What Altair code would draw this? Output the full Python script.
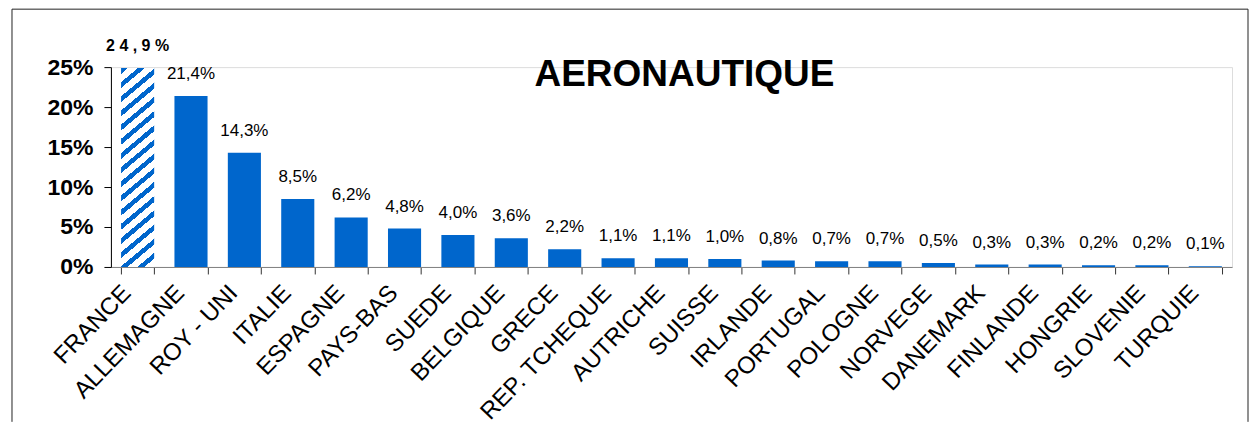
import altair as alt
import pandas as pd

# ---- data ----
countries = ["FRANCE", "ALLEMAGNE", "ROY - UNI", "ITALIE", "ESPAGNE", "PAYS-BAS",
             "SUEDE", "BELGIQUE", "GRECE", "REP. TCHEQUE", "AUTRICHE", "SUISSE",
             "IRLANDE", "PORTUGAL", "POLOGNE", "NORVEGE", "DANEMARK", "FINLANDE",
             "HONGRIE", "SLOVENIE", "TURQUIE"]
shares_pct = [24.9, 21.4, 14.3, 8.5, 6.2, 4.8, 4.0, 3.6, 2.2, 1.1, 1.1, 1.0,
              0.8, 0.7, 0.7, 0.5, 0.3, 0.3, 0.2, 0.2, 0.1]
highlight = "FRANCE"
title_text = ["AERONAUTIQUE"]
y_ticks = [0, 0.05, 0.10, 0.15, 0.20, 0.25]

BLUE = "#0066CC"
FONT = "Liberation Sans"


def fmt(v):
    return ("%.1f" % v).replace(".", ",") + "%"


labels = []
for c, v in zip(countries, shares_pct):
    s = fmt(v)
    if c == highlight:
        s = " ".join(s)
    labels.append(s)

df = pd.DataFrame({
    "country": countries,
    "value": [v / 100 for v in shares_pct],
    "label": labels,
    "hl": [c == highlight for c in countries],
})

# ---- hatch pattern for highlighted bar (diagonal stripes via gradient) ----
K = 16
frac = 0.42
stops = []
for i in range(K):
    a = i / K
    b = (i + frac) / K
    e = (i + 1) / K
    stops += [alt.GradientStop(offset=a, color=BLUE),
              alt.GradientStop(offset=b, color=BLUE),
              alt.GradientStop(offset=b, color="white"),
              alt.GradientStop(offset=e, color="white")]
hatch = alt.LinearGradient(gradient="linear", stops=stops,
                           x1=0, y1=0, x2=0.1555, y2=1.1175)

W, H = 1122, 200

x_enc = alt.X("country:N", sort=countries,
              scale=alt.Scale(paddingInner=0.38, paddingOuter=0.19),
              axis=alt.Axis(title=None, labelAngle=-46, labelAlign="right",
                            labelBaseline="middle", labelPadding=15,
                            labelOffset=-11,
                            labelFontSize=24, labelFont=FONT, labelColor="black",
                            labelOverlap=False, tickBand="extent", tickSize=7,
                            tickColor="#333333", domainColor="#808080",
                            labelLimit=400))
y_enc = alt.Y("value:Q", scale=alt.Scale(domain=[0, 0.25], nice=False, zero=True),
              axis=alt.Axis(title=None, format="%", values=y_ticks, grid=False,
                            labelFontSize=23, labelFontWeight="bold", labelFont=FONT,
                            labelColor="black", labelPadding=11, tickSize=7,
                            tickColor="black", domainColor="black"))

base = alt.Chart(df)

bars = base.mark_bar(color=BLUE).encode(x=x_enc, y=y_enc).transform_filter(
    alt.datum.hl == False)
hbar = base.mark_bar(color=hatch).encode(x=x_enc, y=y_enc).transform_filter(
    alt.datum.hl == True)

txt = base.mark_text(dy=-17, baseline="alphabetic", fontSize=17, font=FONT,
                     color="black").encode(x=x_enc, y=y_enc, text="label:N"
                                           ).transform_filter(alt.datum.hl == False)
htxt = base.mark_text(dy=-17, baseline="alphabetic", fontSize=16, font=FONT,
                      fontWeight="bold", color="black").encode(
    x=x_enc, y=y_enc, text="label:N").transform_filter(alt.datum.hl == True)

# chart title drawn inside the frame
ttl = alt.Chart(alt.Data(values=[{"t": t} for t in title_text])).mark_text(
    fontSize=37, font=FONT, fontWeight="bold", color="black",
    baseline="alphabetic", align="center").encode(
    text="t:N", x=alt.value(574), y=alt.value(19))

frame_data = alt.Data(values=[{}])
fl = alt.Chart(frame_data).mark_rule(color="#222222", strokeWidth=1).encode(
    x=alt.value(-99), y=alt.value(-58), y2=alt.value(355))
ft = alt.Chart(frame_data).mark_rule(color="#222222", strokeWidth=1).encode(
    x=alt.value(-99), x2=alt.value(1138), y=alt.value(-58))
fr = alt.Chart(frame_data).mark_rule(color="#222222", strokeWidth=1).encode(
    x=alt.value(1138), y=alt.value(-58), y2=alt.value(355))

chart = alt.layer(bars, hbar, txt, htxt, ttl, fl, ft, fr).properties(
    width=W, height=H,
    padding={"left": 3, "top": 0, "right": 0, "bottom": 0},
).configure_view(strokeWidth=0).configure(background="white")

chart.save("out.html", embed_options={"renderer": "svg", "actions": False})
